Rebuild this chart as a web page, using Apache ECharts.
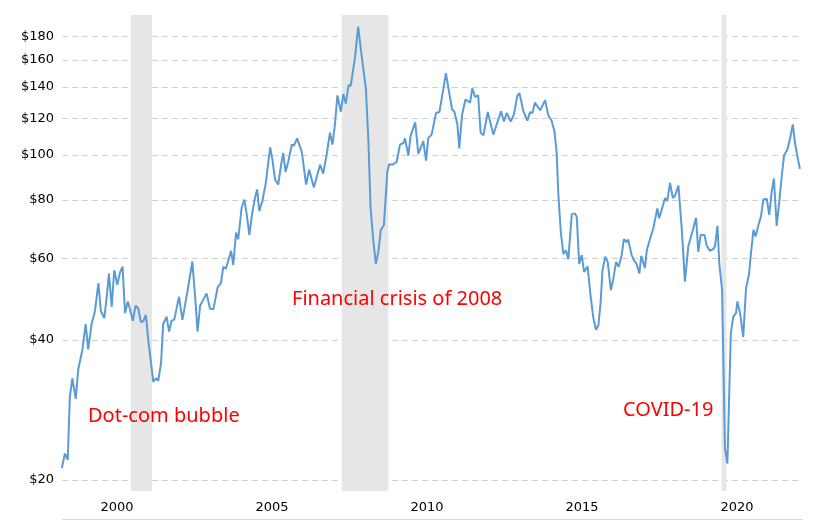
<!DOCTYPE html>
<html lang="en">
<head>
    <meta charset="UTF-8">
    <title>Price history</title>
    <script src="https://cdn.jsdelivr.net/npm/echarts@6/dist/echarts.min.js"></script>
    <style>
        body { margin: 0; background: #fff; }
    </style>
</head>
<body>
<div id="main" style="width: 818px;height: 521px;"></div>
<script>
    // decimal years and prices
    var years = [
        1998.22, 1998.32, 1998.38, 1998.41, 1998.48, 1998.56, 1998.67, 1998.75, 1998.88, 1998.99,
        1999.07, 1999.18, 1999.29, 1999.40, 1999.48, 1999.59, 1999.67, 1999.74, 1999.83, 1999.91,
        2000.01, 2000.10, 2000.18, 2000.26, 2000.35, 2000.42, 2000.51, 2000.60, 2000.69, 2000.77,
        2000.85, 2000.93, 2001.01, 2001.10, 2001.17, 2001.26, 2001.33, 2001.42, 2001.49, 2001.60,
        2001.68, 2001.76, 2001.85, 2002.00, 2002.11, 2002.17, 2002.28, 2002.43, 2002.52, 2002.60,
        2002.68, 2002.78, 2002.89, 2003.00, 2003.11, 2003.25, 2003.35, 2003.43, 2003.51, 2003.61,
        2003.68, 2003.75, 2003.84, 2003.91, 2004.02, 2004.11, 2004.18, 2004.27, 2004.36, 2004.45,
        2004.52, 2004.59, 2004.69, 2004.80, 2004.94, 2005.01, 2005.10, 2005.20, 2005.29, 2005.36,
        2005.44, 2005.53, 2005.64, 2005.71, 2005.81, 2005.96, 2006.10, 2006.20, 2006.35, 2006.55,
        2006.65, 2006.76, 2006.87, 2006.95, 2007.03, 2007.11, 2007.22, 2007.30, 2007.38, 2007.47,
        2007.54, 2007.68, 2007.78, 2007.89, 2008.03, 2008.11, 2008.18, 2008.27, 2008.35, 2008.43,
        2008.51, 2008.61, 2008.72, 2008.78, 2008.89, 2009.02, 2009.13, 2009.24, 2009.29, 2009.40,
        2009.47, 2009.62, 2009.72, 2009.88, 2009.97, 2010.04, 2010.15, 2010.29, 2010.40, 2010.53,
        2010.61, 2010.72, 2010.81, 2010.88, 2010.98, 2011.04, 2011.13, 2011.24, 2011.39, 2011.46,
        2011.55, 2011.65, 2011.73, 2011.82, 2011.96, 2012.14, 2012.27, 2012.39, 2012.48, 2012.57,
        2012.70, 2012.81, 2012.91, 2012.98, 2013.11, 2013.24, 2013.32, 2013.40, 2013.48, 2013.65,
        2013.81, 2013.91, 2014.02, 2014.11, 2014.18, 2014.24, 2014.32, 2014.40, 2014.48, 2014.56,
        2014.67, 2014.77, 2014.83, 2014.91, 2014.99, 2015.07, 2015.18, 2015.28, 2015.36, 2015.45,
        2015.53, 2015.60, 2015.66, 2015.75, 2015.83, 2015.93, 2016.01, 2016.10, 2016.18, 2016.28,
        2016.35, 2016.44, 2016.49, 2016.60, 2016.68, 2016.76, 2016.85, 2016.91, 2017.03, 2017.09,
        2017.19, 2017.30, 2017.43, 2017.49, 2017.68, 2017.75, 2017.84, 2017.93, 2018.00, 2018.11,
        2018.22, 2018.32, 2018.43, 2018.57, 2018.68, 2018.75, 2018.83, 2018.95, 2019.02, 2019.13,
        2019.24, 2019.29, 2019.37, 2019.43, 2019.52, 2019.61, 2019.69, 2019.80, 2019.88, 2019.97,
        2020.01, 2020.10, 2020.20, 2020.29, 2020.39, 2020.45, 2020.53, 2020.60, 2020.69, 2020.77,
        2020.85, 2020.96, 2021.04, 2021.12, 2021.19, 2021.28, 2021.37, 2021.44, 2021.52, 2021.62,
        2021.71, 2021.80, 2021.87, 2021.95, 2022.03
    ]
    var prices = [
        21.2, 22.8, 23.0, 22.1, 30.2, 33.1, 29.9, 34.6, 38.0, 43.3,
        38.2, 43.3, 46.2, 53.0, 46.2, 44.6, 49.6, 55.6, 47.1, 56.5,
        52.6, 56.0, 57.5, 45.7, 48.4, 46.6, 44.0, 47.4, 46.7, 43.7,
        43.9, 45.3, 40.0, 35.6, 32.5, 33.1, 32.7, 35.6, 43.3, 44.9,
        41.7, 44.0, 44.3, 49.6, 44.2, 43.9, 51.2, 59.0, 49.6, 41.7,
        47.4, 48.8, 50.4, 46.7, 46.6, 52.0, 53.0, 57.5, 56.9, 59.9,
        62.2, 58.0, 68.1, 65.8, 77.0, 80.2, 74.9, 67.3, 74.9, 80.8,
        84.3, 75.7, 79.6, 87.1, 103.9, 98.0, 88.5, 86.4, 94.8, 101.0,
        91.9, 97.2, 105.3, 104.7, 108.6, 101.7, 86.4, 93.0, 85.1, 95.3,
        91.2, 100.0, 111.7, 105.3, 116.3, 134.3, 124.0, 135.2, 129.0, 141.3,
        140.8, 162.5, 188.9, 163.8, 138.6, 107.0, 76.9, 65.2, 58.3, 61.9,
        69.0, 70.7, 92.2, 95.5, 95.3, 96.6, 105.3, 106.1, 108.6, 99.7,
        109.9, 117.6, 100.5, 107.1, 97.2, 108.7, 110.6, 123.1, 123.7, 139.1,
        150.0, 135.5, 125.3, 124.0, 116.3, 103.3, 121.8, 131.6, 129.6, 139.1,
        133.3, 134.4, 111.7, 110.2, 123.7, 110.6, 117.6, 124.1, 118.0, 123.1,
        118.0, 122.6, 133.8, 135.9, 124.1, 118.5, 123.6, 123.1, 129.6, 124.8,
        131.2, 121.8, 118.5, 112.5, 101.5, 81.5, 67.8, 61.2, 62.4, 59.7,
        74.6, 74.9, 73.6, 58.3, 60.9, 56.0, 57.6, 49.6, 44.9, 42.1,
        43.1, 48.1, 56.5, 60.4, 58.9, 51.2, 54.2, 58.9, 57.5, 60.9,
        65.9, 64.9, 65.8, 60.9, 59.3, 58.3, 55.6, 60.7, 57.1, 62.4,
        65.8, 69.6, 76.7, 73.1, 80.8, 79.6, 87.1, 80.8, 81.7, 85.9,
        69.0, 53.4, 63.7, 68.8, 73.3, 61.9, 67.3, 67.3, 63.9, 62.2,
        62.8, 63.7, 70.4, 58.3, 51.2, 23.4, 21.7, 41.3, 44.9, 45.7,
        48.4, 45.7, 40.6, 51.6, 55.6, 61.4, 69.0, 66.8, 70.7, 73.6,
        80.2, 80.5, 74.3, 83.5, 89.0, 70.4, 80.2, 89.7, 100.0, 102.5,
        108.4, 116.3, 106.1, 99.2, 93.3
    ]
    var yTicks = [20, 40, 60, 80, 100, 120, 140, 160, 180]
    var xTicks = [2000, 2005, 2010, 2015, 2020]
    // shaded periods [start, end]
    var periods = [
        [2000.45, 2001.13],
        [2007.25, 2008.75],
        [2019.50, 2019.66]
    ]

    var seriesData = years.map(function (y, i) { return [y, prices[i]] })
    var shadeData = periods.map(function (p) { return [{ xAxis: p[0] }, { xAxis: p[1] }] })

    var chart = echarts.init(document.getElementById('main'))
    var option = {
        animation: false,
        grid: { left: 62, right: 18, top: 15, bottom: 30, containLabel: false },
        xAxis: {
            type: 'value',
            min: 1998.226,
            max: 2022.032,
            axisLine: { show: false },
            axisTick: { show: false },
            splitLine: { show: false },
            axisLabel: {
                customValues: xTicks,
                margin: 10,
                color: '#000',
                fontFamily: 'DejaVu Sans',
                fontSize: 13,
                formatter: function (v) { return String(Math.round(v)) }
            }
        },
        yAxis: {
            type: 'log',
            min: 18.94,
            max: 200,
            z: 1,
            axisLine: { show: false },
            axisTick: { show: false, customValues: yTicks },
            axisLabel: {
                customValues: yTicks,
                margin: 8,
                color: '#000',
                fontFamily: 'DejaVu Sans',
                fontSize: 13,
                formatter: function (v) { return '$' + Math.round(v) }
            },
            splitLine: {
                show: true,
                lineStyle: { color: '#d0d0d0', type: [6, 4], width: 1 }
            }
        },
        series: [
            {
                type: 'line',
                z: 0,
                data: [],
                silent: true,
                markArea: {
                    silent: true,
                    itemStyle: { color: '#e6e6e6' },
                    data: shadeData
                }
            },
            {
                type: 'line',
                z: 2,
                data: seriesData,
                showSymbol: false,
                symbol: 'none',
                lineStyle: { color: '#5b9bd5', width: 2 },
                itemStyle: { color: '#5b9bd5' }
            }
        ],
        graphic: [
            { type: 'line', z: 100, shape: { x1: 62, y1: 519.5, x2: 803, y2: 519.5 }, style: { stroke: '#d9d9d9', lineWidth: 1 } },
            { type: 'text', z: 100, left: 88, top: 406, style: { text: 'Dot-com bubble', fill: '#ff0000', font: '20px "Noto Sans"' } },
            { type: 'text', z: 100, left: 292, top: 289, style: { text: 'Financial crisis of 2008', fill: '#ff0000', font: '20px "Noto Sans"' } },
            { type: 'text', z: 100, left: 623, top: 400, style: { text: 'COVID-19', fill: '#ff0000', font: '20px "Noto Sans"' } }
        ]
    }
    chart.setOption(option)
</script>
</body>
</html>
